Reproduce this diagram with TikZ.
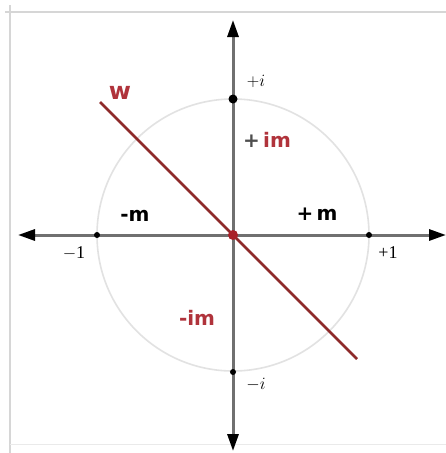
\documentclass[tikz,border=0pt]{standalone}
\usepackage{fontspec}
\setmainfont{Liberation Serif}
\newfontfamily\labfont{DejaVu Sans}
\usetikzlibrary{arrows.meta}
\definecolor{axisgray}{HTML}{707070}
\definecolor{framegray}{HTML}{D6D6D6}
\definecolor{circgray}{HTML}{E2E2E2}
\definecolor{wred}{HTML}{8E2A2A}
\definecolor{labred}{HTML}{B0333B}
\definecolor{dotred}{HTML}{A82228}
\tikzset{
  frameline/.style={draw=framegray, line width=1.6pt},
  axisline/.style={draw=axisgray, line width=3pt,
    {Triangle[length=17pt,width=11pt,color=black]}-{Triangle[length=17pt,width=11pt,color=black]}},
  unitcirc/.style={draw=circgray, line width=1.6pt},
  wline/.style={draw=wred, line width=2.6pt},
  blackdot/.style={circle, fill=black, inner sep=0pt, minimum size=#1},
  blackdot/.default=7pt,
  reddot/.style={circle, fill=dotred, inner sep=0pt, minimum size=10pt},
  numlab/.style={font=\fontsize{18}{18}\selectfont, inner sep=0pt},
  mlab/.style={font=\labfont\bfseries\fontsize{20}{20}\selectfont, inner sep=0pt},
  redlab/.style={mlab, text=labred}
}
\begin{document}
\begin{tikzpicture}[x=1pt,y=-1pt]
\useasboundingbox (0,0) rectangle (446,453);
\fill[white] (0,0) rectangle (446,453);
% frame
\coordinate (FTL) at (10,12);
\coordinate (FTR) at (446,12);
\coordinate (FBL) at (10,453);
\draw[frameline] (5,12) -- (FTR);
\draw[frameline] (10,5) -- (FBL);
\draw[draw=framegray!50, line width=1pt] (10,444) -- (446,444);
% center and circle
\coordinate (O) at (233,235);
\draw[unitcirc] (O) circle[radius=136];
% axes
\coordinate (L) at (18,235);
\coordinate (R) at (446,235);
\coordinate (T) at (233,20);
\coordinate (B) at (233,451);
\draw[axisline] (L) -- (R);
\draw[axisline] (B) -- (T);
% w line
\coordinate (W1) at (100,102);
\coordinate (W2) at (357,359);
\draw[wline] (W1) -- (W2);
% dots
\node[blackdot=6pt] (M1) at (97,235) {};
\node[blackdot=6pt] (P1) at (369,235) {};
\node[blackdot=9pt] (PI) at (233,99) {};
\node[blackdot=6pt] (MI) at (233,372) {};
\node[reddot] (C) at (O) {};
% labels
\node[redlab, font=\labfont\bfseries\fontsize{24}{24}\selectfont] (wl) at (120,93) {w};
\node[numlab] (pil) at (256,81) {$+i$};
\node[numlab] (mil) at (256,385) {$-i$};
\node[numlab] (m1l) at (74,253) {$-$1};
\node[numlab] (p1l) at (388,253) {+1};
\node[mlab] (mml) at (135,216) {-m};
\node[mlab] (pml) at (317,214) {+\,m};
\node[mlab] (piml) at (267,140) {\textcolor{axisgray!70!black}{+}\,\textcolor{labred}{im}};
\node[redlab] (miml) at (197,318) {-im};
\end{tikzpicture}
\end{document}
